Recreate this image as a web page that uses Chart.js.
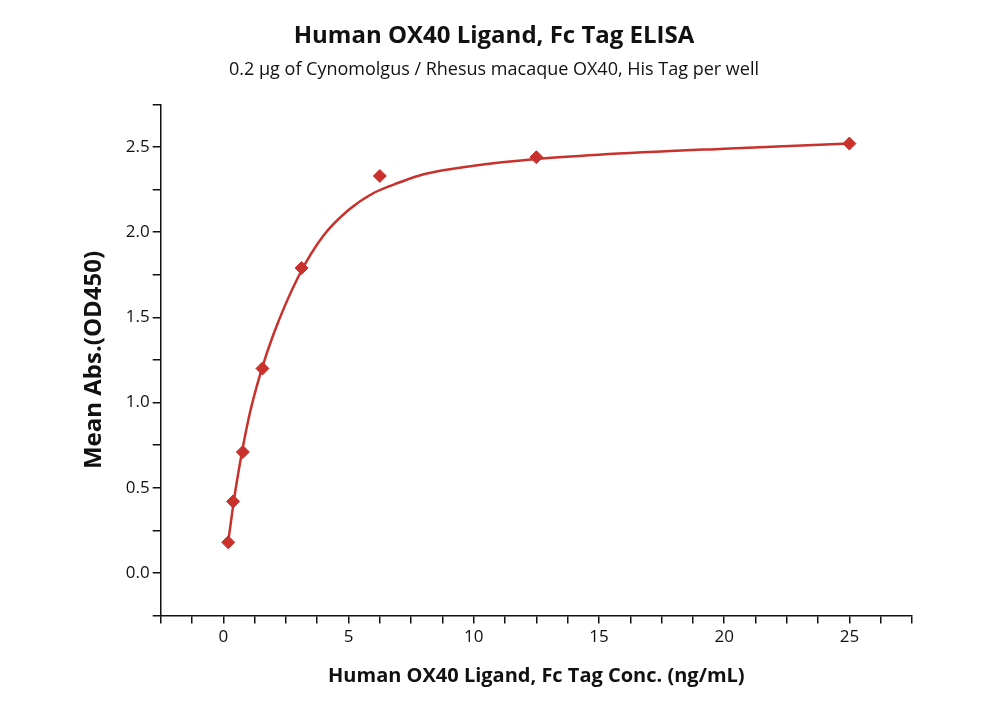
<!DOCTYPE html>
<html><head><meta charset="utf-8">
<script src="https://cdn.jsdelivr.net/npm/chart.js"></script>
<style>html,body{margin:0;background:#fff}#w{width:1000px;height:714px}</style>
</head><body><div id="w"><canvas id="c"></canvas></div>
<script>
const concX = [0.195, 0.39, 0.78, 1.5625, 3.125, 6.25, 12.5, 25];
const meanAbs = [0.18, 0.42, 0.71, 1.20, 1.79, 2.33, 2.44, 2.52];
const fitX = [0.2, 0.5, 1, 1.5, 2, 3, 4, 5, 6, 7, 8, 10, 12.5, 15, 20, 25];
const fitY = [0.19, 0.50, 0.90, 1.18, 1.40, 1.74, 1.98, 2.13, 2.23, 2.29, 2.34, 2.39, 2.43, 2.455, 2.49, 2.52];
const xLabels = [0, 5, 10, 15, 20, 25];
const yLabels = [0, 0.5, 1, 1.5, 2, 2.5];
const red = '#c8312c';
new Chart(document.getElementById('c'), {
  type: 'scatter',
  data: { datasets: [
    { type:'line', data: fitX.map((x,i)=>({x, y: fitY[i]})), borderColor: red, borderWidth: 2.5, pointRadius: 0, cubicInterpolationMode: 'monotone', fill:false },
    { data: concX.map((x,i)=>({x, y: meanAbs[i]})), backgroundColor: red, borderColor: red, pointStyle: 'rectRot', pointRadius: 6.5 }
  ]},
  options: {
    responsive: true, maintainAspectRatio: false, animation: false,
    layout: { padding: { left: 76, right: 88, top: 10, bottom: 22 } },
    plugins: {
      legend: { display: false }, tooltip: { enabled: false },
      title: { display: true, text: 'Human OX40 Ligand, Fc Tag ELISA', color: '#111', font: { family: 'Open Sans', size: 24, weight: 'bold' }, padding: { top: 12, bottom: 8 } },
      subtitle: { display: true, text: '0.2 µg of Cynomolgus / Rhesus macaque OX40, His Tag per well', color: '#111', font: { family: 'Open Sans', size: 18 }, padding: { bottom: 24 } }
    },
    scales: {
      x: { type: 'linear', min: -2.5, max: 27.5,
        border: { color: '#111', width: 1.5 },
        grid: { drawOnChartArea: false, color: '#111', tickLength: 8, lineWidth: 1.5 },
        ticks: { stepSize: 1.25, color: '#111', font: { family: 'Open Sans', size: 17 }, autoSkip: false, maxRotation: 0,
          callback: v => xLabels.includes(v) ? String(v) : '' },
        title: { display: true, text: 'Human OX40 Ligand, Fc Tag Conc. (ng/mL)', color: '#111', font: { family: 'Open Sans', size: 20, weight: 'bold' }, padding: { top: 14 } } },
      y: { min: -0.25, max: 2.75,
        border: { color: '#111', width: 1.5 },
        grid: { drawOnChartArea: false, color: '#111', tickLength: 8, lineWidth: 1.5 },
        ticks: { stepSize: 0.25, color: '#111', font: { family: 'Open Sans', size: 17 }, autoSkip: false,
          callback: v => yLabels.some(l => Math.abs(l - v) < 1e-9) ? v.toFixed(1) : '' },
        title: { display: true, text: 'Mean Abs.(OD450)', color: '#111', font: { family: 'Open Sans', size: 24, weight: 'bold' }, padding: { bottom: 14 } } }
    }
  }
});
</script></body></html>
